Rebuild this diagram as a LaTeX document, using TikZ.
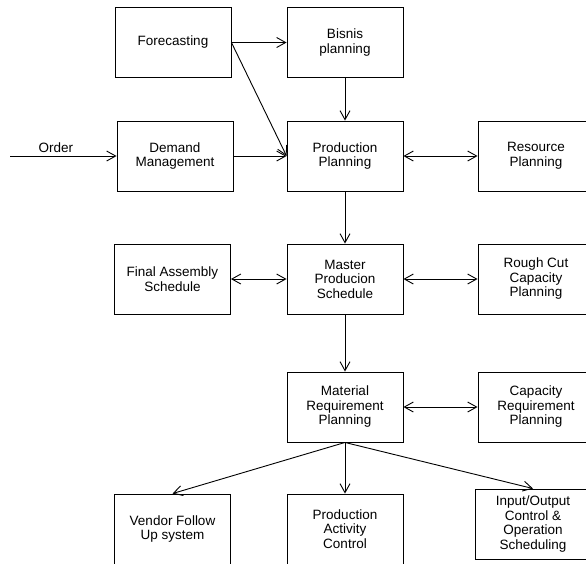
\documentclass[tikz,border=0pt]{standalone}
\usepackage{fontspec}
\setmainfont{Liberation Sans}
\usetikzlibrary{arrows.meta}

\begin{document}
\begin{tikzpicture}[x=1pt, y=-1pt, line width=0.9pt,
    >={Straight Barb[length=9pt,width=10pt]},
    block/.style={draw, minimum width=116pt, minimum height=70pt, align=center,
      inner sep=2pt, font=\fontsize{13.5}{14.5}\selectfont}]

    \clip (0,0) rectangle (586,563);

    % Erste Zeile
    \node[block] at (173,42.5) (fore) {Forecasting};
    \node[block] at (345,42.5) (bisnis) {Bisnis\\planning};

    % Zweite Zeile
    \coordinate (orderin) at (10,156);
    \node[block] at (175,156) (demand) {Demand\\Management};
    \node[block] at (345,156) (prod) {Production\\Planning};
    \node[block] at (536,156) (resource) {Resource\\Planning};

    % Dritte Zeile
    \node[block] at (172.5,279) (final) {Final Assembly\\Schedule};
    \node[block] at (345,279) (master) {Master\\Producion\\Schedule};
    \node[block] at (536,279) (rough) {Rough Cut\\Capacity\\Planning};

    % Vierte Zeile
    \node[block] at (345,407) (mrp) {Material\\Requirement\\Planning};
    \node[block] at (536,407) (capreq) {Capacity\\Requirement\\Planning};

    % Untere Zeile
    \node[block] at (172.5,529) (vendor) {Vendor Follow\\Up system};
    \node[block] at (345,529) (pac) {Production\\Activity\\Control};
    \node[block] at (533,524) (io) {Input/Output\\Control \&\\Operation\\Scheduling};

    % Pfeile oben
    \draw[->] (fore.east) -- (bisnis.west);
    \draw[->] (fore.east) -- (prod.west);
    \draw[->] (bisnis) -- (prod);
    \draw[->] (orderin) -- node[above, pos=0.43, font=\fontsize{13.5}{14.5}\selectfont] {Order} (demand);
    \draw[->] (demand) -- (prod);
    \draw[<->] (prod) -- (resource);

    % Pfeile Mitte
    \draw[->] (prod) -- (master);
    \draw[<->] (final) -- (master);
    \draw[<->] (master) -- (rough);
    \draw[->] (master) -- (mrp);
    \draw[<->] (mrp) -- (capreq);

    % Pfeile unten
    \draw[->] (mrp.south) -- (vendor.north);
    \draw[->] (mrp.south) -- (pac.north);
    \draw[->] (mrp.south) -- (io.north);

\end{tikzpicture}
\end{document}
